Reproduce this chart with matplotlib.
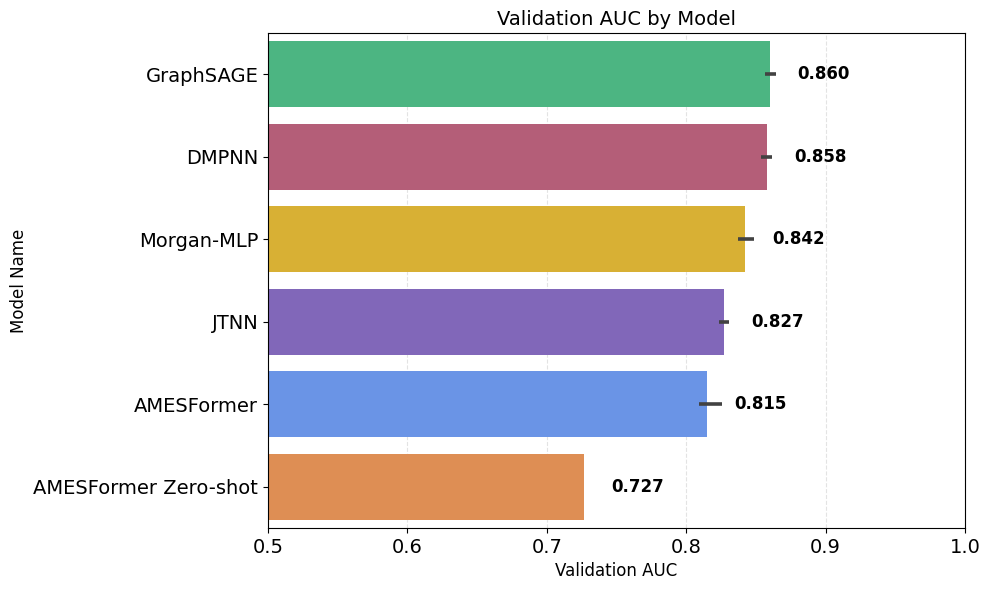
import matplotlib
matplotlib.use("Agg")
import matplotlib.pyplot as plt
import numpy as np

models = ["GraphSAGE", "DMPNN", "Morgan-MLP", "JTNN", "AMESFormer", "AMESFormer Zero-shot"]
auc = [0.860, 0.858, 0.842, 0.827, 0.815, 0.727]
err_low = [0.8565, 0.8537, 0.8370, 0.8235, 0.8090, None]
err_high = [0.8644, 0.8616, 0.8486, 0.8307, 0.8257, None]
colors = ["#4cb582", "#b45e78", "#d8b034", "#8167b9", "#6a94e6", "#de8e54"]

fig, ax = plt.subplots(figsize=(9.89, 5.9), dpi=100)
y = np.arange(len(models))
ax.barh(y, auc, height=0.8, color=colors, zorder=2)
for i in range(len(models)):
    if err_low[i] is not None:
        ax.plot([err_low[i], err_high[i]], [y[i], y[i]], color="#424242", lw=2.6,
                solid_capstyle="butt", zorder=3)
    ax.text(auc[i] + 0.0195, y[i], f"{auc[i]:.3f}", ha="left", va="center",
            fontsize=12, fontweight="bold", zorder=4)

ax.set_yticks(y)
ax.set_yticklabels(models, fontsize=14)
ax.set_ylim(len(models) - 0.5, -0.5)
ax.set_xlim(0.5, 1.0)
ax.tick_params(axis="x", labelsize=14)
ax.set_xlabel("Validation AUC", fontsize=12)
ax.set_ylabel("Model Name", fontsize=12)
ax.set_title("Validation AUC by Model", fontsize=14)
ax.xaxis.grid(True, linestyle="--", alpha=0.35, zorder=0)
ax.set_axisbelow(True)
fig.subplots_adjust(left=268/989, right=965/989, top=1-33/590, bottom=1-528/590)
fig.savefig("out.png", dpi=100)
